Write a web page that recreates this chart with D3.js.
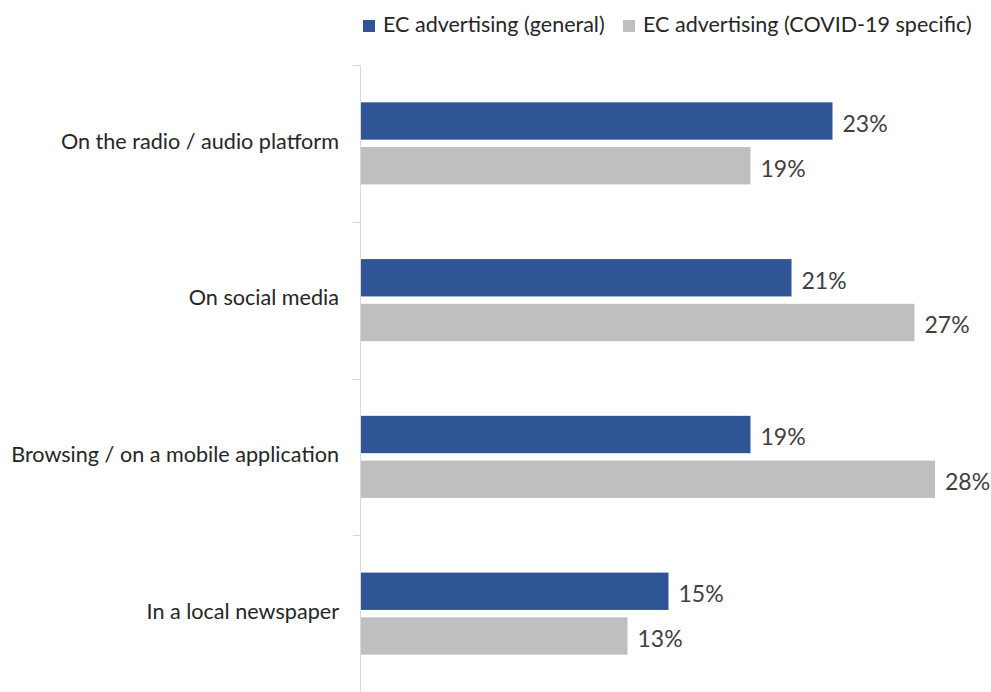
<!DOCTYPE html>
<html>
<head>
<meta charset="utf-8">
<script src="https://cdn.jsdelivr.net/npm/d3@7/dist/d3.min.js"></script>
<style>
  html, body { margin: 0; padding: 0; background: #ffffff; }
  svg { display: block; }
  text { font-family: Lato, "Open Sans", sans-serif; }
</style>
</head>
<body>
<svg id="chart" width="991" height="692"></svg>
<script>
// Where respondents saw the advertising, share of respondents (%)
const categories = [
  "On the radio / audio platform",
  "On social media",
  "Browsing / on a mobile application",
  "In a local newspaper"
];
const seriesNames = ["EC advertising (general)", "EC advertising (COVID-19 specific)"];
const generalValues = [23, 21, 19, 15];
const covidValues = [19, 27, 28, 13];
const seriesColors = ["#2F5597", "#BFBFBF"];

const rows = categories.map((c, i) => ({ category: c, values: [generalValues[i], covidValues[i]] }));

const svg = d3.select("#chart");
const margin = { top: 65, right: 0, bottom: 0, left: 361 };
const width = 991, height = 692;

const x = d3.scaleLinear().domain([0, 30]).range([margin.left, margin.left + 30 * 20.5]);
const y = d3.scaleBand().domain(categories).range([margin.top, height]).paddingInner(0).paddingOuter(0);
const inner = d3.scaleBand().domain([0, 1]).range([0, y.bandwidth()]).paddingInner(0.165).paddingOuter(0.835);

// Category axis with short tick marks on band boundaries
const axisG = svg.append("g");
axisG.append("line")
  .attr("x1", margin.left - 0.5).attr("x2", margin.left - 0.5)
  .attr("y1", margin.top).attr("y2", height)
  .attr("stroke", "#d9d9d9").attr("stroke-width", 1);
const boundaries = categories.map(c => y(c)).concat([height]);
axisG.selectAll("line.tick").data(boundaries).join("line")
  .attr("class", "tick")
  .attr("x1", margin.left - 8).attr("x2", margin.left)
  .attr("y1", d => Math.round(d) + 0.5).attr("y2", d => Math.round(d) + 0.5)
  .attr("stroke", "#d9d9d9").attr("stroke-width", 1);

const yAxis = d3.axisLeft(y).tickSize(0).tickPadding(22);
const yG = svg.append("g").attr("transform", `translate(${margin.left},0)`).call(yAxis);
yG.select(".domain").remove();
yG.selectAll("text").attr("font-size", 21.6).attr("fill", "#262626")
  .attr("font-family", "Lato, 'Open Sans', sans-serif")
  .attr("dy", "0.24em");

// Bars
const groups = svg.selectAll("g.row").data(rows).join("g")
  .attr("class", "row")
  .attr("transform", d => `translate(0,${y(d.category)})`);

groups.selectAll("rect").data(d => d.values.map((v, i) => ({ v, i }))).join("rect")
  .attr("x", x(0))
  .attr("y", d => inner(d.i))
  .attr("width", d => x(d.v) - x(0))
  .attr("height", inner.bandwidth())
  .attr("fill", d => seriesColors[d.i]);

groups.selectAll("text.val").data(d => d.values.map((v, i) => ({ v, i }))).join("text")
  .attr("class", "val")
  .attr("x", d => x(d.v) + 10)
  .attr("y", d => inner(d.i) + inner.bandwidth() / 2)
  .attr("dy", "0.47em")
  .attr("font-size", 23)
  .attr("fill", "#404040")
  .text(d => d.v + "%");

// Legend
const legendItems = [
  { name: seriesNames[0], color: seriesColors[0], x: 363 },
  { name: seriesNames[1], color: seriesColors[1], x: 623 }
];
const lg = svg.append("g");
legendItems.forEach(it => {
  lg.append("rect").attr("x", it.x).attr("y", 20).attr("width", 12).attr("height", 12).attr("fill", it.color);
  lg.append("text").attr("x", it.x + 20).attr("y", 31.5)
    .attr("font-size", 21.5).attr("fill", "#262626").text(it.name);
});
</script>
</body>
</html>
